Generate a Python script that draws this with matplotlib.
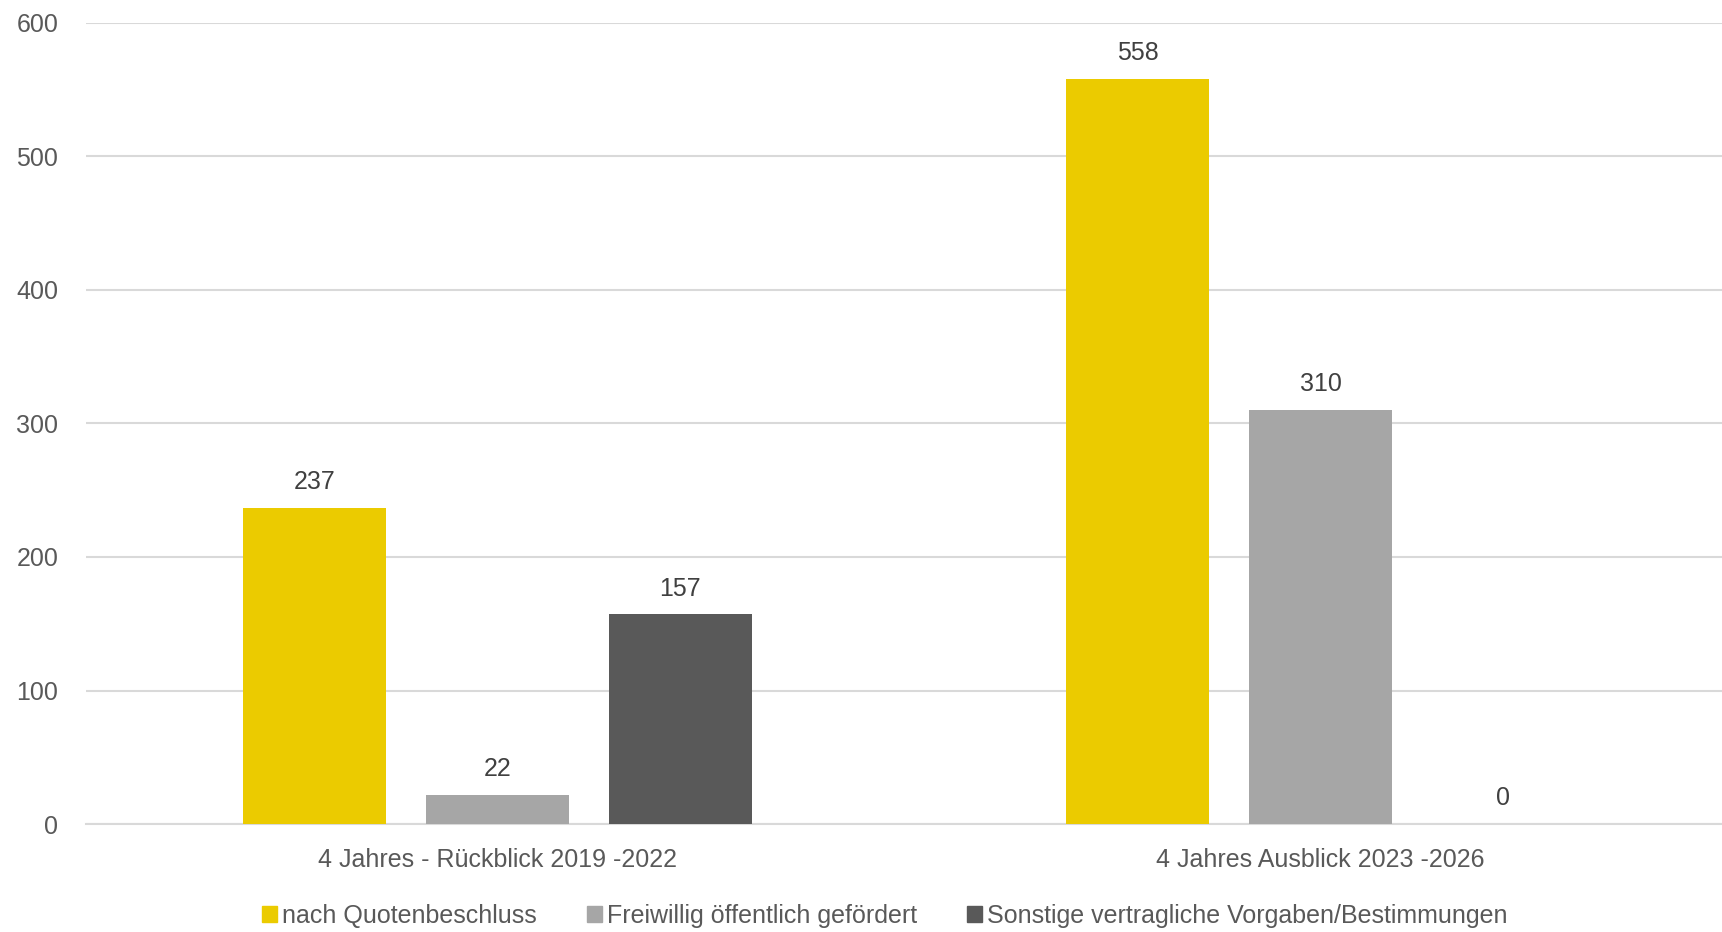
import numpy as np
import matplotlib.pyplot as plt
from matplotlib.patches import Patch
from matplotlib import font_manager

# Schmale Schrift wenn vorhanden, sonst kleinere Liberation Sans
installiert = {f.name for f in font_manager.fontManager.ttflist}
if 'Liberation Sans Narrow' in installiert:
    plt.rcParams['font.family'] = ['Liberation Sans Narrow', 'DejaVu Sans']
    fs = 20
else:
    plt.rcParams['font.family'] = ['Liberation Sans', 'DejaVu Sans']
    fs = 18

# Daten
kategorien = ['4 Jahres - Rückblick 2019 -2022', '4 Jahres Ausblick 2023 -2026']
serien = ['nach Quotenbeschluss', 'Freiwillig öffentlich gefördert',
          'Sonstige vertragliche Vorgaben/Bestimmungen']
werte = [[237, 558], [22, 310], [157, 0]]
farben = ['#EBCB00', '#A6A6A6', '#595959']

fig = plt.figure(figsize=(17.22, 9.32), dpi=100)
ax = fig.add_axes([86 / 1722, 108 / 932, 1646 / 1722, 801 / 932])

x = np.arange(len(kategorien))
breite = 0.174
abstand = 0.222
for i, (name, w, c) in enumerate(zip(serien, werte, farben)):
    bars = ax.bar(x + (i - 1) * abstand, w, breite, color=c, label=name, zorder=3)
    ax.bar_label(bars, padding=10, fontsize=fs, color='#404040')

ax.set_xlim(-0.5, 1.5)
ax.set_ylim(0, 600)
ax.set_yticks(np.arange(0, 601, 100))
ax.yaxis.grid(True, color='#D9D9D9', linewidth=1.5, zorder=0)
ax.set_xticks(x)
ax.set_xticklabels(kategorien)
ax.tick_params(axis='both', length=0, labelsize=fs, labelcolor='#595959')
ax.tick_params(axis='x', pad=17)
ax.tick_params(axis='y', pad=20)
for s in ['top', 'right', 'left']:
    ax.spines[s].set_visible(False)
ax.spines['bottom'].set_color('#D9D9D9')
ax.spines['bottom'].set_linewidth(1.5)

handles = [Patch(color=c) for c in farben]
leg = fig.legend(handles, serien, loc='center', bbox_to_anchor=(0.514, 16 / 932), ncol=3,
                 frameon=False, fontsize=fs, handlelength=0.6, handleheight=0.6,
                 handletextpad=0.2, columnspacing=2.0, borderaxespad=0)
for t in leg.get_texts():
    t.set_color('#595959')

fig.savefig('out.png', dpi=100)
